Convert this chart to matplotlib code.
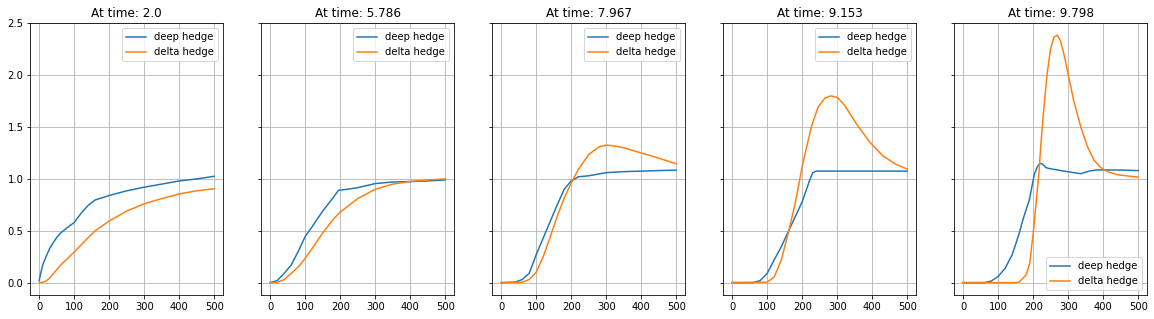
import matplotlib
matplotlib.use('Agg')
import matplotlib.pyplot as plt

titles = ['At time: 2.0', 'At time: 5.786', 'At time: 7.967', 'At time: 9.153', 'At time: 9.798']

# panel 1
x1_deep = [0, 5, 10, 20, 30, 40, 50, 60, 80, 100, 120, 140, 160, 200, 250, 300, 350, 400, 450, 500]
y1_deep = [0.02, 0.1, 0.17, 0.255, 0.33, 0.385, 0.435, 0.475, 0.53, 0.58, 0.67, 0.745, 0.797, 0.84, 0.885, 0.92, 0.95, 0.98, 1.0, 1.025]
x1_delta = [0, 10, 20, 30, 40, 50, 60, 80, 100, 130, 160, 200, 250, 300, 350, 400, 450, 500]
y1_delta = [0.0, 0.003, 0.016, 0.045, 0.085, 0.125, 0.165, 0.23, 0.295, 0.4, 0.5, 0.595, 0.69, 0.76, 0.81, 0.855, 0.885, 0.905]

# panel 2
x2_deep = [0, 20, 40, 60, 80, 100, 120, 150, 180, 195, 220, 250, 300, 350, 400, 450, 500]
y2_deep = [0.0, 0.02, 0.09, 0.17, 0.3, 0.445, 0.54, 0.69, 0.82, 0.89, 0.9, 0.915, 0.955, 0.97, 0.974, 0.98, 0.99]
x2_delta = [0, 20, 40, 60, 80, 100, 120, 150, 180, 200, 250, 300, 350, 400, 450, 500]
y2_delta = [0.0, 0.003, 0.03, 0.09, 0.15, 0.235, 0.33, 0.48, 0.61, 0.68, 0.81, 0.9, 0.95, 0.975, 0.99, 1.0]

# panel 3
x3_deep = [0, 40, 60, 80, 100, 120, 140, 160, 180, 200, 220, 250, 300, 350, 400, 450, 500]
y3_deep = [0.0, 0.005, 0.03, 0.09, 0.27, 0.43, 0.59, 0.75, 0.9, 0.98, 1.02, 1.03, 1.06, 1.07, 1.075, 1.08, 1.085]
x3_delta = [0, 60, 80, 100, 120, 140, 160, 180, 200, 220, 250, 280, 300, 320, 350, 400, 450, 500]
y3_delta = [0.0, 0.003, 0.03, 0.1, 0.25, 0.44, 0.64, 0.815, 0.96, 1.09, 1.235, 1.31, 1.325, 1.32, 1.3, 1.25, 1.2, 1.145]

# panel 4
x4_deep = [0, 60, 80, 100, 120, 140, 160, 180, 200, 220, 230, 240, 300, 400, 500]
y4_deep = [0.0, 0.0, 0.02, 0.09, 0.22, 0.345, 0.49, 0.635, 0.78, 0.975, 1.06, 1.075, 1.075, 1.075, 1.075]
x4_delta = [0, 100, 120, 140, 160, 180, 200, 212, 226, 245, 265, 282, 300, 320, 357, 394, 431, 468, 500]
y4_delta = [0.0, 0.005, 0.055, 0.215, 0.475, 0.765, 1.12, 1.3, 1.5, 1.69, 1.78, 1.8, 1.785, 1.715, 1.52, 1.35, 1.22, 1.14, 1.095]

# panel 5
x5_deep = [0, 60, 80, 100, 120, 140, 160, 170, 189, 203, 212, 220, 226, 236, 245, 297, 336, 360, 383, 450, 500]
y5_deep = [0.0, 0.0, 0.015, 0.06, 0.14, 0.27, 0.475, 0.6, 0.8, 1.04, 1.12, 1.15, 1.145, 1.11, 1.1, 1.07, 1.05, 1.075, 1.087, 1.085, 1.08]
x5_delta = [0, 150, 160, 180, 190, 200, 216, 221, 230, 240, 250, 259, 269, 278, 288, 300, 316, 336, 355, 374, 393, 412, 441, 500]
y5_delta = [0.0, 0.0, 0.005, 0.075, 0.185, 0.475, 1.04, 1.29, 1.67, 2.02, 2.26, 2.365, 2.385, 2.33, 2.2, 2.005, 1.75, 1.5, 1.31, 1.18, 1.11, 1.07, 1.04, 1.016]

panels = [
    (x1_deep, y1_deep, x1_delta, y1_delta, 'upper right'),
    (x2_deep, y2_deep, x2_delta, y2_delta, 'upper right'),
    (x3_deep, y3_deep, x3_delta, y3_delta, 'upper right'),
    (x4_deep, y4_deep, x4_delta, y4_delta, 'upper right'),
    (x5_deep, y5_deep, x5_delta, y5_delta, 'lower right'),
]

fig, axes = plt.subplots(1, 5, sharey=True, figsize=(1154 / 72, 319 / 72), dpi=72)
fig.subplots_adjust(left=0.0264, right=0.9939, bottom=0.075, top=0.927, wspace=0.2)

for ax, title, (xd, yd, xh, yh, loc) in zip(axes, titles, panels):
    ax.plot(xd, yd, color='tab:blue', label='deep hedge')
    ax.plot(xh, yh, color='tab:orange', label='delta hedge')
    ax.set_title(title)
    ax.grid(True)
    ax.legend(loc=loc)
    ax.set_xlim(-25, 525)
    ax.set_xticks([0, 100, 200, 300, 400, 500])

axes[0].set_ylim(-0.12, 2.5)
axes[0].set_yticks([0.0, 0.5, 1.0, 1.5, 2.0, 2.5])

fig.savefig('out.png', dpi=72)
